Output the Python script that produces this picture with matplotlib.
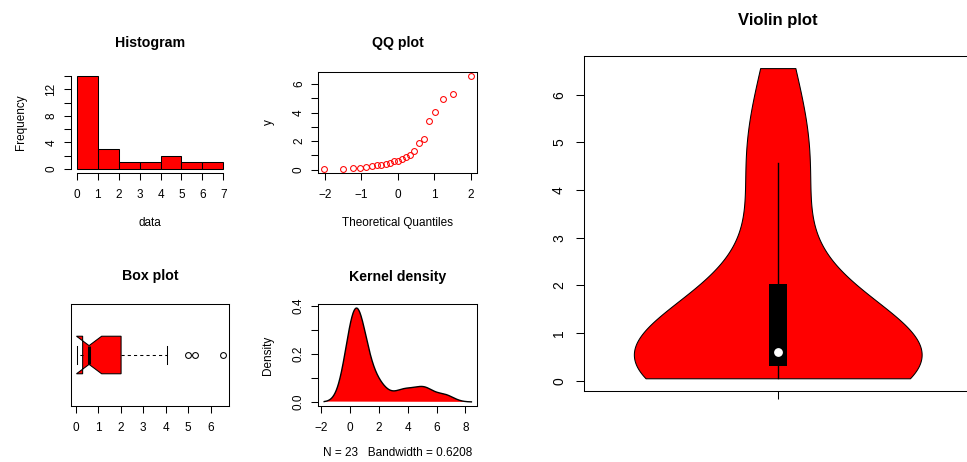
import numpy as np
import matplotlib.pyplot as plt

plt.rcParams['font.family'] = ['Liberation Sans', 'DejaVu Sans']

# sorted sample
values = [0.05, 0.05, 0.09, 0.14, 0.19, 0.28, 0.35, 0.35, 0.40, 0.47, 0.60, 0.60,
          0.72, 0.86, 1.05, 1.33, 1.90, 2.14, 3.44, 4.07, 4.98, 5.30, 6.56]
# theoretical normal quantiles for n = 23
theo_q = [-2.02, -1.51, -1.23, -1.03, -0.86, -0.71, -0.58, -0.45, -0.33, -0.22, -0.11, 0.0,
          0.11, 0.22, 0.33, 0.45, 0.58, 0.71, 0.86, 1.03, 1.23, 1.51, 2.02]
hist_breaks = [0, 1, 2, 3, 4, 5, 6, 7]
kde_bw = 0.6208

data = np.array(values)
W, H = 967, 462
fig = plt.figure(figsize=(W / 100, H / 100), dpi=100)

SMALL, MAIN = 8.5, 10.2


def add_axes(l, t, r, b):
    return fig.add_axes([l / W, 1 - b / H, (r - l) / W, (b - t) / H])


def r_range(lo, hi):
    d = (hi - lo) * 0.04
    return lo - d, hi + d


def gauss_kde(sample, grid, bw):
    z = (grid[:, None] - sample[None, :]) / bw
    return np.exp(-0.5 * z ** 2).sum(axis=1) / (len(sample) * bw * np.sqrt(2 * np.pi))


def style(ax, ticklen=5.0, fs=SMALL, xpad=7.0, ypad=4.6):
    for s in ax.spines.values():
        s.set_linewidth(0.75)
    ax.tick_params(direction='out', length=ticklen, width=0.75, labelsize=fs)
    ax.tick_params(axis='x', pad=xpad)
    ax.tick_params(axis='y', pad=ypad)
    for lab in ax.get_yticklabels():
        lab.set_rotation(90)
        lab.set_va('center')


def labels(ax, box, title, xlabel=None, ylabel=None, fs=SMALL, tfs=MAIN):
    l, t, r, b = box
    ax.set_title(title[2], fontsize=tfs, fontweight='bold', pad=0, va='center',
                 y=(b - title[1]) / (b - t))
    if xlabel:
        ax.set_xlabel(xlabel[2], fontsize=fs, va='center')
        ax.xaxis.set_label_coords((xlabel[0] - l) / (r - l), (b - xlabel[1]) / (b - t))
    if ylabel:
        ax.set_ylabel(ylabel[2], fontsize=fs, va='center')
        ax.yaxis.set_label_coords((ylabel[0] - l) / (r - l), (b - ylabel[1]) / (b - t))


# ---- Histogram
box = (70.8, 72.3, 229.3, 172.7)
ax = add_axes(*box)
ax.hist(data, bins=hist_breaks, color='red', edgecolor='black', linewidth=0.75)
ax.set_xlim(r_range(0, 7))
ax.set_ylim(r_range(0, 14))
ax.spines['top'].set_visible(False)
ax.spines['right'].set_visible(False)
ax.spines['left'].set_bounds(0, 14)
ax.spines['bottom'].set_bounds(0, 7)
ax.set_xticks(hist_breaks)
ax.set_yticks(range(0, 15, 2), ['0', '', '4', '', '8', '', '12', ''])
style(ax)
labels(ax, box, (150, 43.3, 'Histogram'), (150, 222.7, 'data'), (20.5, 122.5, 'Frequency'))

# ---- QQ plot
box = (318.3, 72.3, 477.3, 172.7)
ax = add_axes(*box)
ax.plot(theo_q, data, 'o', mfc='none', mec='red', ms=4.2, mew=0.75)
ax.set_xlim(r_range(min(theo_q), max(theo_q)))
ax.set_ylim(r_range(data.min(), data.max()))
ax.set_xticks([-2, -1, 0, 1, 2])
ax.set_yticks(range(7), ['0', '', '2', '', '4', '', '6'])
style(ax)
labels(ax, box, (397.8, 43.3, 'QQ plot'), (397.8, 222.7, 'Theoretical Quantiles'),
       (269.3, 122.5, 'y'))

# ---- Box plot
box = (70.8, 304.3, 229.3, 405.7)
ax = add_axes(*box)
ax.boxplot(data, orientation='horizontal', notch=True, widths=0.4, positions=[1],
           patch_artist=True,
           boxprops=dict(facecolor='red', edgecolor='black', linewidth=0.75),
           medianprops=dict(color='black', linewidth=2.2),
           whiskerprops=dict(color='black', linestyle=(0, (3, 3)), linewidth=0.75),
           capprops=dict(color='black', linewidth=0.75),
           flierprops=dict(marker='o', mfc='none', mec='black', ms=4.2, mew=0.75))
ax.set_ylim(0.46, 1.54)
ax.set_xlim(r_range(data.min(), data.max()))
ax.set_yticks([])
ax.set_xticks(range(7), [str(i) for i in range(7)])
style(ax)
labels(ax, box, (150, 276, 'Box plot'))

# ---- Kernel density
box = (318.3, 304.3, 477.3, 405.7)
ax = add_axes(*box)
grid = np.linspace(data.min() - 3 * kde_bw, data.max() + 3 * kde_bw, 512)
dens = gauss_kde(data, grid, kde_bw)
ax.fill(grid, dens, facecolor='red', edgecolor='none')
ax.plot(grid, dens, color='black', lw=1.0)
ax.set_xlim(r_range(grid.min(), grid.max()))
ax.set_ylim(r_range(0, dens.max()))
ax.set_xticks(range(-2, 9, 2))
ax.set_yticks([0, 0.1, 0.2, 0.3, 0.4], ['0.0', '', '0.2', '', '0.4'])
style(ax)
labels(ax, box, (397.8, 277, 'Kernel density'),
       (397.8, 453.3, 'N = %d   Bandwidth = %.4f' % (len(data), kde_bw)),
       (268.3, 355, 'Density'))

# ---- Violin plot
box = (583.5, 55.7, 972.0, 390.7)
ax = add_axes(*box)
q1, med, q3 = np.percentile(data, [25, 50, 75])
upper = min(data.max(), q3 + 1.5 * (q3 - q1))
h = data.std(ddof=1) * (4 / (3 * len(data))) ** 0.2
vgrid = np.linspace(data.min(), data.max(), 300)
vd = gauss_kde(data, vgrid, h)
half = 0.4 * vd / vd.max()
ax.fill_betweenx(vgrid, 1 - half, 1 + half, facecolor='red', edgecolor='black', lw=0.75)
ax.plot([1, 1], [data.min(), upper], color='black', lw=1.0)
ax.bar(1, q3 - q1, bottom=q1, width=0.05, color='black')
ax.plot(1, med, 'o', color='white', ms=5.3)
ax.set_xlim(0.46, 1.54)
ax.set_ylim(r_range(data.min(), data.max()))
ax.set_yticks(range(7))
ax.set_xticks([1], [''])
style(ax, ticklen=6.1, fs=10, xpad=6.5, ypad=6.5)
labels(ax, box, (778, 20.7, 'Violin plot'), tfs=12)

fig.savefig('out.png', dpi=100)
